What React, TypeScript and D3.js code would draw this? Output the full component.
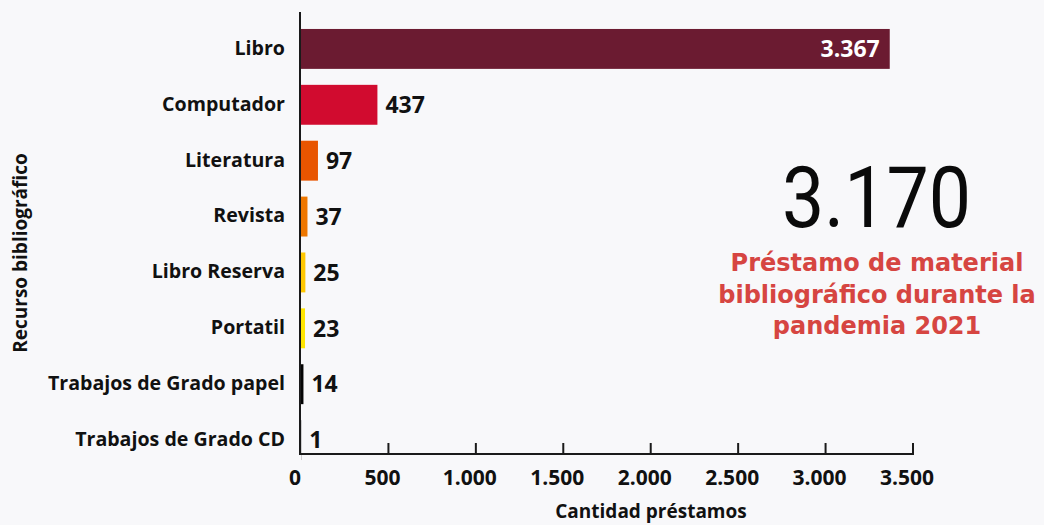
import React from "react";
import * as d3 from "d3";

const categories: string[] = [
  "Libro",
  "Computador",
  "Literatura",
  "Revista",
  "Libro Reserva",
  "Portatil",
  "Trabajos de Grado papel",
  "Trabajos de Grado CD",
];
const values: number[] = [3367, 437, 97, 37, 25, 23, 14, 1];
const barColors: string[] = [
  "#6B1B31",
  "#D10B2F",
  "#E85500",
  "#EE7700",
  "#FFC700",
  "#FFE500",
  "#050505",
  "#050505",
];
const xTicks: number[] = [0, 500, 1000, 1500, 2000, 2500, 3000, 3500];
const totalLabel = "3.170";
const subtitleLines: string[] = [
  "Préstamo de material",
  "bibliográfico durante la",
  "pandemia 2021",
];
const xTitle = "Cantidad préstamos";
const yTitle = "Recurso bibliográfico";

const W = 1044;
const H = 525;
const FONT = "'Open Sans', 'Noto Sans', sans-serif";

const fmt = (v: number) =>
  d3.formatLocale({ decimal: ",", thousands: ".", grouping: [3], currency: ["", ""] }).format(",d")(v);

export default function App() {
  const x = d3.scaleLinear().domain([0, 3500]).range([301, 913]);
  const y = d3
    .scaleBand<string>()
    .domain(categories)
    .range([13, 476])
    .paddingInner(0.2857)
    .paddingOuter(0.2857);
  const axisY = 454;
  const bw = y.bandwidth();

  return (
    <div style={{ position: "fixed", left: 0, top: 0, width: W, height: H }}>
      <svg width={W} height={H} style={{ display: "block" }}>
        <rect x={0} y={0} width={W} height={H} fill="#F8F8FA" />
        {/* bars */}
        {categories.map((c, i) => (
          <rect
            key={c}
            x={x(0)}
            y={y(c)!}
            width={Math.max(0, x(values[i]) - x(0))}
            height={bw}
            fill={barColors[i]}
          />
        ))}
        {/* axes */}
        <line x1={300} x2={300} y1={12} y2={axisY + 1} stroke="#1a1a1a" strokeWidth={2} />
        <line x1={299} x2={914} y1={axisY} y2={axisY} stroke="#1a1a1a" strokeWidth={2} />
        {xTicks.map((t) => (
          <g key={t}>
            {t > 0 && (
              <line x1={x(t)} x2={x(t)} y1={axisY - 11} y2={axisY} stroke="#1a1a1a" strokeWidth={2} />
            )}
            <text
              x={x(t) - 6}
              y={485}
              textAnchor="middle"
              fontFamily={FONT}
              fontWeight={700}
              fontSize={21}
              fill="#111"
            >
              {fmt(t)}
            </text>
          </g>
        ))}
        {/* category labels */}
        {categories.map((c) => (
          <text
            key={c}
            x={285}
            y={y(c)! + bw / 2 - 1}
            dy="0.35em"
            textAnchor="end"
            fontFamily={FONT}
            fontWeight={700}
            fontSize={19.6}
            fill="#111"
          >
            {c}
          </text>
        ))}
        {/* value labels */}
        {categories.map((c, i) => {
          const inside = values[i] > 2000;
          return (
            <text
              key={c}
              x={inside ? x(values[i]) - 10 : x(values[i]) + 8}
              y={y(c)! + bw / 2}
              dy="0.36em"
              textAnchor={inside ? "end" : "start"}
              fontFamily={FONT}
              fontWeight={700}
              fontSize={23}
              fill={inside ? "#ffffff" : "#111"}
            >
              {fmt(values[i])}
            </text>
          );
        })}
        {/* axis titles */}
        <text
          x={651}
          y={518}
          textAnchor="middle"
          fontFamily={FONT}
          fontWeight={700}
          fontSize={19}
          fill="#111"
        >
          {xTitle}
        </text>
        <text
          transform={`translate(27,253) rotate(-90)`}
          textAnchor="middle"
          fontFamily={FONT}
          fontWeight={700}
          fontSize={19}
          fill="#111"
        >
          {yTitle}
        </text>
        {/* big number */}
        <text
          x={782}
          y={227}
          fontFamily="Roboto, sans-serif"
          fontWeight={400}
          fontSize={86}
          textLength={189}
          lengthAdjust="spacingAndGlyphs"
          fill="#0a0a0a"
        >
          {totalLabel}
        </text>
        {subtitleLines.map((l, i) => (
          <text
            key={l}
            x={877}
            y={271 + i * 31.5}
            textAnchor="middle"
            fontFamily="'DejaVu Sans', sans-serif"
            fontWeight={700}
            fontSize={24}
            fill="#D64541"
          >
            {l}
          </text>
        ))}
      </svg>
    </div>
  );
}
